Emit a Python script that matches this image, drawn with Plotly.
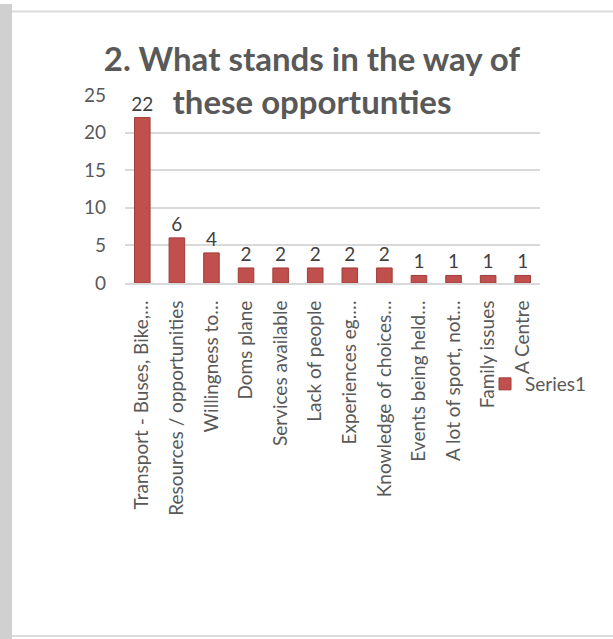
import plotly.graph_objects as go

categories = [
    "Transport - Buses, Bike,…",
    "Resources / opportunities",
    "Willingness to…",
    "Doms plane",
    "Services available",
    "Lack of people",
    "Experiences eg.…",
    "Knowledge of choices…",
    "Events being held…",
    "A lot of sport, not…",
    "Family issues",
    "A Centre",
]
values = [22, 6, 4, 2, 2, 2, 2, 2, 1, 1, 1, 1]
series_name = "Series1"
y_ticks = [0, 5, 10, 15, 20, 25]

W, H = 613, 639
ML, MR, MT, MB = 125, 73, 95, 356
PW, PH = W - ML - MR, H - MT - MB

def px_x(p):
    return (p - ML) / PW

def px_y(p):
    return 1 - (p - MT) / PH

FONT = "Lato, Open Sans, sans-serif"
TXT = "#595959"
RED = "#c0504d"

fig = go.Figure()
fig.add_trace(go.Bar(
    x=categories, y=values, name=series_name,
    marker=dict(color=RED, line=dict(color="#a03c39", width=1)),
    text=values, textposition="outside", cliponaxis=False,
    constraintext="none",
    textfont=dict(family=FONT, size=19, color="#404040"),
    showlegend=True,
))

shapes = [
    dict(type="rect", xref="paper", yref="paper",
         x0=px_x(0), x1=px_x(12), y0=px_y(H), y1=px_y(4),
         fillcolor="#d0d0d0", line=dict(width=0), layer="below"),
    dict(type="line", xref="paper", yref="paper",
         x0=px_x(12), x1=px_x(W), y0=px_y(11.5), y1=px_y(11.5),
         line=dict(color="#dcdcdc", width=2)),
    dict(type="line", xref="paper", yref="paper",
         x0=px_x(12), x1=px_x(W), y0=px_y(636), y1=px_y(636),
         line=dict(color="#dcdcdc", width=2)),
]

fig.update_layout(
    width=W, height=H,
    margin=dict(l=ML, r=MR, t=MT, b=MB),
    paper_bgcolor="white", plot_bgcolor="white",
    font=dict(family=FONT, color=TXT),
    title=dict(
        text="<b>2. What stands in the way of<br>these opportunties</b>",
        x=312 / W, xref="container", xanchor="center",
        y=1 - 71 / H, yref="container", yanchor="top",
        font=dict(family=FONT, size=33, color=TXT),
    ),
    bargap=0.55,
    shapes=shapes,
    legend=dict(
        x=px_x(485), y=px_y(384), xanchor="left", yanchor="middle",
        xref="paper", yref="paper",
        font=dict(family=FONT, size=19, color=TXT),
        bgcolor="rgba(0,0,0,0)",
    ),
    xaxis=dict(
        tickangle=-90, tickfont=dict(family=FONT, size=19, color=TXT),
        showgrid=False, showline=True, linecolor="#d9d9d9", linewidth=2,
        ticks="", ticklabelstandoff=8,
    ),
    yaxis=dict(
        range=[0, 25], tickvals=y_ticks,
        tickfont=dict(family=FONT, size=19, color=TXT),
        showgrid=True, gridcolor="#d9d9d9", gridwidth=2,
        zeroline=False, showline=False, ticks="", ticklabelstandoff=18,
    ),
)

fig.write_html("out.html")
